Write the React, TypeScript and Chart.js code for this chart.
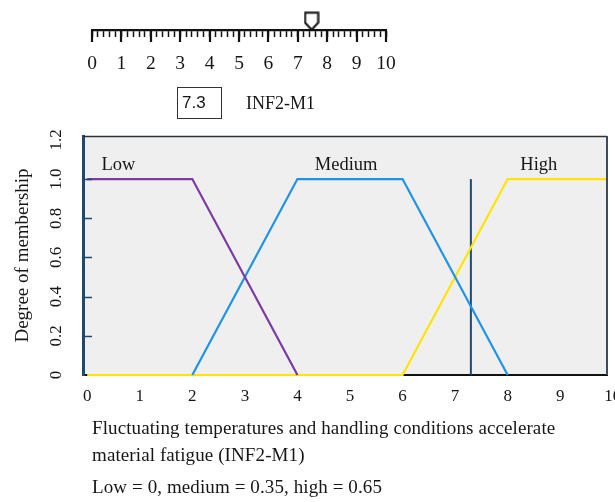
import React, { useEffect, useRef } from "react";
import { Chart, registerables } from "chart.js";

Chart.register(...registerables);

// ---------- data ----------
const SERIES_NAMES = ["Low", "Medium", "High"];
const LOW_X = [0, 2, 4];
const LOW_Y = [1, 1, 0];
const MEDIUM_X = [2, 4, 6, 8];
const MEDIUM_Y = [0, 1, 1, 0];
const HIGH_X = [0, 6, 8, 10];
const HIGH_Y = [0, 0, 1, 1];
const INPUT_VALUE = 7.3;
const INPUT_LINE_Y = [0, 1];
const SET_LABEL_X = [0.27, 4.33, 8.24];
const SET_LABEL_Y = [1.045, 1.045, 1.045];
const X_TICKS = [0, 1, 2, 3, 4, 5, 6, 7, 8, 9, 10];
const Y_TICKS = [0, 0.2, 0.4, 0.6, 0.8, 1.0, 1.2];
const Y_TICK_LABELS = ["0", "0.2", "0.4", "0.6", "0.8", "1.0", "1.2"];
const RULER_MAJOR = [0, 1, 2, 3, 4, 5, 6, 7, 8, 9, 10];
const RULER_SUBDIVISIONS = 5;
const RULER_MARKER = 7.47;
const INPUT_BOX_TEXT = "7.3";
const INPUT_NAME = "INF2-M1";
const Y_TITLE = "Degree of membership";
const X_TITLE_LINES = [
  "Fluctuating temperatures and handling conditions accelerate",
  "material fatigue (INF2-M1)",
];
const RESULT_LINE = "Low = 0, medium = 0.35, high = 0.65";

const COLORS = ["#7b3aa4", "#1f93e6", "#ffe400"];
const INPUT_COLOR = "#1f4a6e";
const SERIF = "'Liberation Serif', 'Times New Roman', serif";
const SANS = "'Liberation Sans', Arial, sans-serif";
const TEXT = "#161616";

function toPoints(xs: number[], ys: number[]) {
  return xs.map((x, i) => ({ x, y: ys[i] }));
}

function makeMarker(): HTMLCanvasElement {
  const c = document.createElement("canvas");
  c.width = 16;
  c.height = 20;
  const ctx = c.getContext("2d")!;
  ctx.lineWidth = 2;
  ctx.strokeStyle = "#111";
  ctx.fillStyle = "#fff";
  ctx.beginPath();
  ctx.moveTo(1.5, 1.5);
  ctx.lineTo(14.5, 1.5);
  ctx.lineTo(14.5, 11.5);
  ctx.lineTo(8, 18.5);
  ctx.lineTo(1.5, 11.5);
  ctx.closePath();
  ctx.fill();
  ctx.stroke();
  return c;
}

export default function App() {
  const mainRef = useRef<HTMLCanvasElement | null>(null);
  const rulerRef = useRef<HTMLCanvasElement | null>(null);

  useEffect(() => {
    const seriesX = [LOW_X, MEDIUM_X, HIGH_X];
    const seriesY = [LOW_Y, MEDIUM_Y, HIGH_Y];

    const bgPlugin = {
      id: "bgPlugin",
      beforeDraw(chart: any) {
        const { ctx, chartArea: a } = chart;
        ctx.save();
        ctx.fillStyle = "#efefef";
        ctx.fillRect(a.left, a.top, a.right - a.left, a.bottom - a.top);
        ctx.restore();
      },
      afterDatasetsDraw(chart: any) {
        const { ctx, chartArea: a, scales } = chart;
        ctx.save();
        // top frame
        ctx.strokeStyle = "#2e3338";
        ctx.lineWidth = 1.5;
        ctx.beginPath();
        ctx.moveTo(a.left, a.top + 0.5);
        ctx.lineTo(a.right, a.top + 0.5);
        ctx.stroke();
        // right frame
        ctx.strokeStyle = "#3e4c5a";
        ctx.lineWidth = 2;
        ctx.beginPath();
        ctx.moveTo(a.right, a.top);
        ctx.lineTo(a.right, a.bottom);
        ctx.stroke();
        // inward y ticks
        ctx.strokeStyle = INPUT_COLOR;
        ctx.lineWidth = 1.5;
        Y_TICKS.forEach((v) => {
          if (v <= 0 || v >= 1.2) return;
          const y = Math.round(scales.y.getPixelForValue(v)) + 0.5;
          ctx.beginPath();
          ctx.moveTo(a.left, y);
          ctx.lineTo(a.left + 9, y);
          ctx.stroke();
        });
        // set labels
        ctx.fillStyle = TEXT;
        ctx.font = `18.5px ${SERIF}`;
        ctx.textAlign = "left";
        ctx.textBaseline = "alphabetic";
        SERIES_NAMES.forEach((name, i) => {
          ctx.fillText(
            name,
            scales.x.getPixelForValue(SET_LABEL_X[i]),
            scales.y.getPixelForValue(SET_LABEL_Y[i])
          );
        });
        ctx.restore();
      },
    };

    const datasets: any[] = SERIES_NAMES.map((name, i) => ({
      label: name,
      data: toPoints(seriesX[i], seriesY[i]),
      showLine: true,
      borderColor: COLORS[i],
      backgroundColor: COLORS[i],
      borderWidth: 2.2,
      pointRadius: 0,
      clip: { left: 5, right: 0, top: 5, bottom: 5 },
    }));
    datasets.push({
      label: "Input",
      data: INPUT_LINE_Y.map((y) => ({ x: INPUT_VALUE, y })),
      showLine: true,
      borderColor: INPUT_COLOR,
      borderWidth: 2,
      pointRadius: 0,
      clip: 5,
    });

    const main = new Chart(mainRef.current!, {
      type: "scatter",
      data: { datasets },
      options: {
        animation: false,
        responsive: false,
        layout: { padding: { left: 0, top: 136, right: 8, bottom: 87 } },
        plugins: { legend: { display: false }, tooltip: { enabled: false } },
        scales: {
          x: {
            type: "linear",
            min: -0.08,
            max: 9.89,
            afterBuildTicks: (s: any) => {
              s.ticks = X_TICKS.map((v) => ({ value: v }));
            },
            afterFit: (s: any) => {
              s.height = 40;
              s.paddingLeft = 0;
              s.paddingRight = 0;
            },
            grid: { display: false, drawTicks: false },
            border: { display: true, color: "#111", width: 2 },
            ticks: {
              autoSkip: false,
              maxRotation: 0,
              padding: 11,
              color: TEXT,
              font: { family: SERIF, size: 17 },
              callback: (v: any) => String(v),
            },
          },
          y: {
            type: "linear",
            min: 0,
            max: 1.22,
            afterBuildTicks: (s: any) => {
              s.ticks = Y_TICKS.map((v) => ({ value: v }));
            },
            afterFit: (s: any) => {
              s.width = 83;
              s.paddingTop = 0;
              s.paddingBottom = 0;
            },
            grid: { display: false, drawTicks: false },
            border: { display: true, color: INPUT_COLOR, width: 3 },
            ticks: {
              autoSkip: false,
              minRotation: 90,
              maxRotation: 90,
              crossAlign: "center",
              padding: 16,
              color: TEXT,
              font: { family: SERIF, size: 17 },
              callback: (_v: any, i: number) => Y_TICK_LABELS[i],
            },
            title: {
              display: true,
              text: Y_TITLE,
              color: TEXT,
              font: { family: SERIF, size: 19 },
              padding: { top: 12, bottom: 0 },
            },
          },
        },
      } as any,
      plugins: [bgPlugin],
    });

    const rulerTicks: number[] = [];
    for (let i = 0; i < RULER_MAJOR.length - 1; i++) {
      for (let k = 0; k < RULER_SUBDIVISIONS; k++) {
        rulerTicks.push(RULER_MAJOR[i] + k / RULER_SUBDIVISIONS);
      }
    }
    rulerTicks.push(RULER_MAJOR[RULER_MAJOR.length - 1]);

    const majorPlugin = {
      id: "majorTicks",
      afterDraw(chart: any) {
        const { ctx, chartArea: a, scales } = chart;
        ctx.save();
        ctx.strokeStyle = "#111";
        ctx.lineWidth = 2.2;
        RULER_MAJOR.forEach((v) => {
          const x = Math.round(scales.x.getPixelForValue(v));
          ctx.beginPath();
          ctx.moveTo(x, a.bottom);
          ctx.lineTo(x, a.bottom + 12);
          ctx.stroke();
        });
        ctx.restore();
      },
    };

    const ruler = new Chart(rulerRef.current!, {
      type: "scatter",
      data: {
        datasets: [
          {
            label: "Input marker",
            data: [{ x: RULER_MARKER, y: 0.417 }],
            pointStyle: makeMarker(),
            pointRadius: 8,
            clip: false,
          } as any,
        ],
      },
      options: {
        animation: false,
        responsive: false,
        layout: { padding: { left: 92, right: 229, top: 0, bottom: 0 } },
        plugins: { legend: { display: false }, tooltip: { enabled: false } },
        scales: {
          x: {
            type: "linear",
            min: 0,
            max: 10,
            afterBuildTicks: (s: any) => {
              s.ticks = rulerTicks.map((v) => ({ value: v }));
            },
            afterFit: (s: any) => {
              s.height = 45;
              s.paddingLeft = 0;
              s.paddingRight = 0;
            },
            grid: {
              display: true,
              drawOnChartArea: false,
              drawTicks: true,
              tickLength: 7,
              tickColor: "#111",
              tickWidth: 1.5,
            },
            border: { display: true, color: "#111", width: 2.2 },
            ticks: {
              autoSkip: false,
              maxRotation: 0,
              padding: 15,
              color: TEXT,
              font: { family: SERIF, size: 19.5 },
              callback: (v: any) => (Number.isInteger(v) ? String(v) : ""),
            },
          },
          y: { display: false, min: 0, max: 1 },
        },
      } as any,
      plugins: [majorPlugin],
    });

    return () => {
      main.destroy();
      ruler.destroy();
    };
  }, []);

  return (
    <div
      style={{
        position: "fixed",
        left: 0,
        top: 0,
        width: 615,
        height: 502,
        overflow: "hidden",
        background: "#fff",
        color: TEXT,
      }}
    >
      <canvas
        ref={mainRef}
        width={615}
        height={502}
        style={{ position: "absolute", left: 0, top: 0, width: 615, height: 502 }}
      />
      <canvas
        ref={rulerRef}
        width={615}
        height={75}
        style={{ position: "absolute", left: 0, top: 0, width: 615, height: 75 }}
      />
      <div
        style={{
          position: "absolute",
          left: 177,
          top: 87,
          width: 45,
          height: 32,
          boxSizing: "border-box",
          border: "1px solid #333",
          fontFamily: SANS,
          fontSize: 17,
          lineHeight: "30px",
          paddingLeft: 4,
        }}
      >
        {INPUT_BOX_TEXT}
      </div>
      <div
        style={{
          position: "absolute",
          left: 246,
          top: 91,
          fontFamily: SERIF,
          fontSize: 18,
          lineHeight: "24px",
          whiteSpace: "nowrap",
        }}
      >
        {INPUT_NAME}
      </div>
      <div
        style={{
          position: "absolute",
          left: 92,
          top: 414,
          fontFamily: SERIF,
          fontSize: 19,
          letterSpacing: "0.1px",
          lineHeight: "27px",
          whiteSpace: "nowrap",
        }}
      >
        {X_TITLE_LINES.map((t, i) => (
          <div key={i}>{t}</div>
        ))}
        <div style={{ marginTop: 5 }}>{RESULT_LINE}</div>
      </div>
    </div>
  );
}
